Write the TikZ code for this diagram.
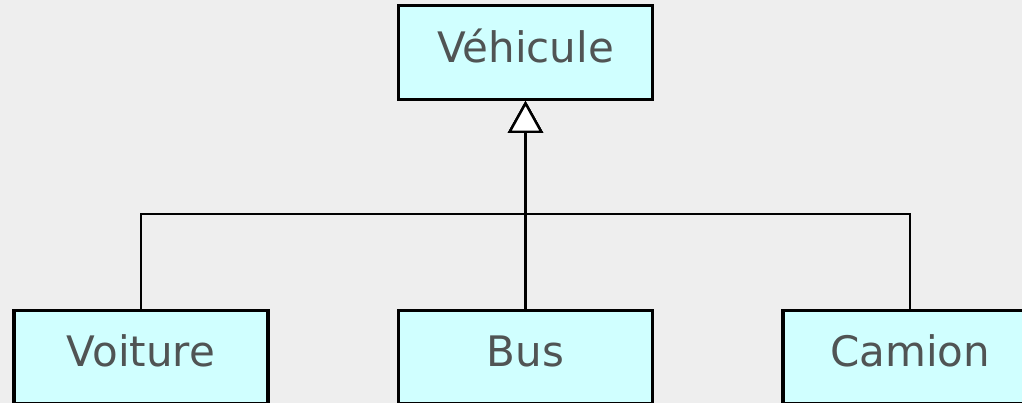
\documentclass[tikz,border=0pt]{standalone}
\usepackage{fontspec}
\setmainfont{DejaVu Sans}
\usetikzlibrary{arrows.meta}
\definecolor{bggray}{RGB}{238,238,238}
\definecolor{boxcyan}{RGB}{208,255,255}
\definecolor{textgray}{RGB}{80,84,84}
\begin{document}
\begin{tikzpicture}
\tikzstyle{cls}=[draw=black, line width=3.4pt, fill=boxcyan, text=textgray, font=\fontsize{42}{50}\selectfont, inner sep=0pt, minimum width=254pt, text height=56.5pt, text depth=37pt]
\tikzstyle{inherit}=[draw, line width=2.4pt, {Triangle[fill=white, length=32pt, width=35pt]}-]
\useasboundingbox (0,0) rectangle (1022pt,-403pt);
\fill[bggray] (0,0) rectangle (1022pt,-403pt);
\clip (0,0) rectangle (1022pt,-403pt);
\node[cls] (N1) at (525.5pt,-52.5pt) {Véhicule}
  [level distance=304.5pt, sibling distance=384.5pt,
   edge from parent/.style=inherit,
   edge from parent path={(\tikzparentnode.south) -- ++(0,-113pt) -| (\tikzchildnode.north)}]
            child {
                node[cls] (N2) {Voiture}
            }
            child {
                node[cls] (N3) {Bus}
            }
            child {
                node[cls] (N4) {Camion}
            }
;
\end{tikzpicture}
\end{document}
